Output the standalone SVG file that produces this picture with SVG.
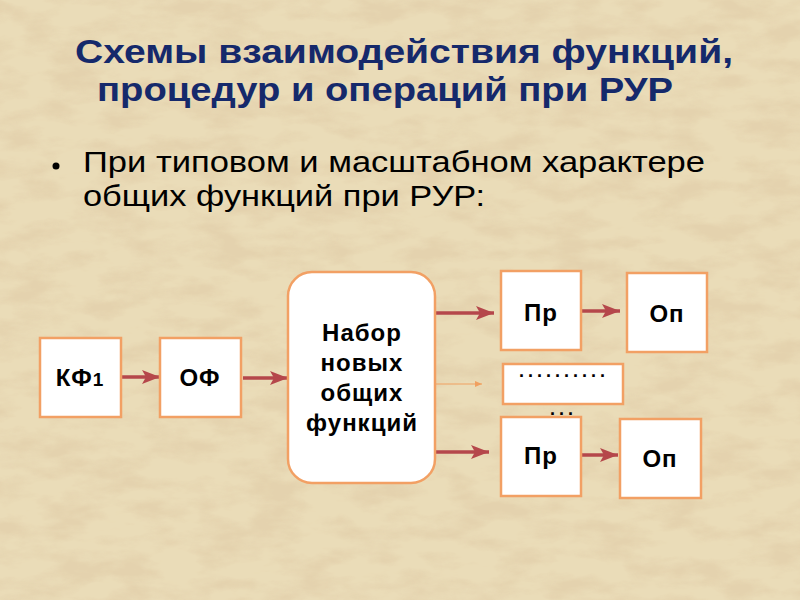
<svg xmlns="http://www.w3.org/2000/svg" width="800" height="600" viewBox="0 0 800 600">
<defs>
<filter id="paper" x="0" y="0" width="100%" height="100%">
<feTurbulence type="fractalNoise" baseFrequency="0.02 0.05" numOctaves="5" seed="7" result="n"/>
<feColorMatrix in="n" type="matrix" values="0 0 0 0 0.76  0 0 0 0 0.62  0 0 0 0 0.40  0 0 0 -3 1.8" result="c"/>
<feComposite in="c" in2="SourceGraphic" operator="in"/>
</filter>
<marker id="ah" markerUnits="userSpaceOnUse" markerWidth="20" markerHeight="14" refX="18" refY="7" orient="auto">
<path d="M0,0 L18,7 L0,14 L4,7 Z" fill="#B5474B"/>
</marker>
<marker id="ahs" markerUnits="userSpaceOnUse" markerWidth="8" markerHeight="6" refX="7" refY="3" orient="auto">
<path d="M0,0 L7,3 L0,6 Z" fill="#F0A060"/>
</marker>
<style>
.box{fill:#FFFFFF;stroke:#F2A064;stroke-width:2.5}
.lbl{font-family:"Liberation Sans",Arial,sans-serif;font-weight:bold;font-size:24px;letter-spacing:1px;fill:#000;text-anchor:middle}
.ttl{font-family:"Liberation Sans",Arial,sans-serif;font-weight:bold;font-size:33px;fill:#15296B}
.body{font-family:"Liberation Sans",Arial,sans-serif;font-size:29px;fill:#000}
.arr{stroke:#B5474B;stroke-width:3.5;fill:none;marker-end:url(#ah)}
.thin{stroke:#F0A060;stroke-width:1;fill:none;marker-end:url(#ahs)}
.dots{font-family:"Liberation Sans",Arial,sans-serif;font-size:18px;font-weight:bold;fill:#000;letter-spacing:4px}
</style>
</defs>
<rect x="0" y="0" width="800" height="600" fill="#EADCB8"/>
<rect x="0" y="0" width="800" height="600" fill="#fff" filter="url(#paper)" opacity="0.7"/>
<g id="title">
<text class="ttl" x="75" y="63" textLength="658" lengthAdjust="spacingAndGlyphs">Схемы взаимодействия функций,</text>
<text class="ttl" x="97" y="101" textLength="576" lengthAdjust="spacingAndGlyphs">процедур и операций при РУР</text>
</g>
<g id="bullet">
<circle cx="56" cy="166" r="3.5" fill="#000"/>
<text class="body" x="83" y="172" textLength="622" lengthAdjust="spacingAndGlyphs">При типовом и масштабном характере</text>
<text class="body" x="83" y="206" textLength="402" lengthAdjust="spacingAndGlyphs">общих функций при РУР:</text>
</g>
<g id="connectors">
<line class="arr" x1="122" y1="377" x2="160" y2="377"/>
<line class="arr" x1="243" y1="378" x2="288" y2="378"/>
<line class="arr" x1="435" y1="313" x2="494" y2="313"/>
<line class="thin" x1="430" y1="384" x2="482" y2="384"/>
<line class="arr" x1="435" y1="452" x2="489" y2="452"/>
<line class="arr" x1="582" y1="311" x2="620" y2="311"/>
<line class="arr" x1="582" y1="455" x2="618" y2="455"/>
</g>
<g id="kf1">
<rect class="box" x="40" y="338" width="81" height="79"/>
<text class="lbl" x="80" y="386">КФ<tspan font-size="19">1</tspan></text>
</g>
<g id="of">
<rect class="box" x="160" y="338" width="81" height="79"/>
<text class="lbl" x="200" y="386">ОФ</text>
</g>
<g id="nabor">
<rect class="box" x="288" y="272" width="147" height="211" rx="24" ry="24"/>
<text class="lbl" x="362" y="341">Набор</text>
<text class="lbl" x="362" y="371">новых</text>
<text class="lbl" x="362" y="401">общих</text>
<text class="lbl" x="362" y="431">функций</text>
</g>
<g id="pr1">
<rect class="box" x="501" y="271" width="80" height="79"/>
<text class="lbl" x="541" y="321">Пр</text>
</g>
<g id="op1">
<rect class="box" x="627" y="273" width="80" height="79"/>
<text class="lbl" x="667" y="322">Оп</text>
</g>
<g id="dotsbox">
<rect class="box" x="503" y="364" width="120" height="40"/>
<text class="dots" x="519" y="377">..........</text>
<text class="dots" x="550" y="415">...</text>
</g>
<g id="pr2">
<rect class="box" x="501" y="417" width="80" height="79"/>
<text class="lbl" x="541" y="464">Пр</text>
</g>
<g id="op2">
<rect class="box" x="620" y="419" width="81" height="79"/>
<text class="lbl" x="660" y="467">Оп</text>
</g>
</svg>
